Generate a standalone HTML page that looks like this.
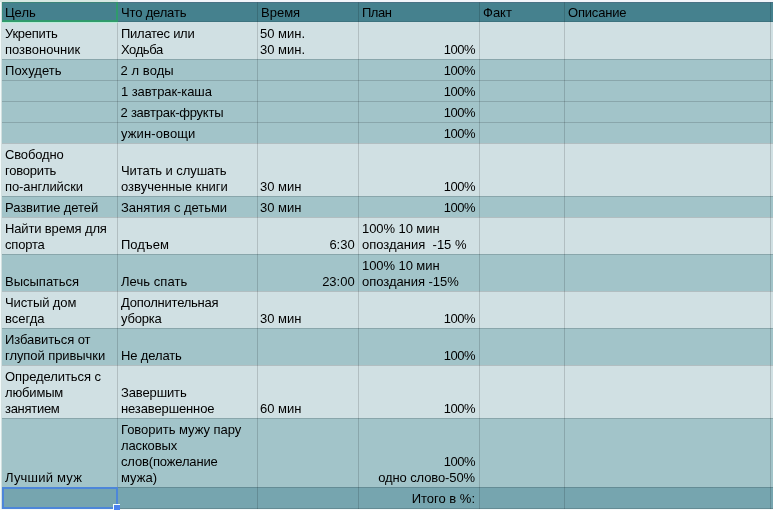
<!DOCTYPE html>
<html lang="ru">
<head>
<meta charset="utf-8">
<title>Таблица целей</title>
<style>
html,body{margin:0;padding:0;}
body{width:773px;height:510px;overflow:hidden;background:#f3f7f7;position:relative;
 font-family:"Liberation Sans",Arial,sans-serif;font-size:13px;line-height:16px;color:#000;}
table{position:absolute;left:2px;top:2px;border-collapse:separate;border-spacing:0;table-layout:fixed;width:775px;}
td{box-sizing:border-box;padding:0 3px 1px 3px;vertical-align:bottom;overflow:hidden;white-space:nowrap;
 border-top:1px solid rgba(0,0,0,.15);}
td span{display:inline-block;position:relative;}
tr.h td{background:#45818e;border-top:0;border-bottom:1px solid rgba(0,0,0,.1);padding-bottom:0;}
tr.l td{background:#d0e0e3;}
tr.d td{background:#a2c4c9;}
tr.t td{background:#76a5af;border-bottom:1px solid rgba(0,0,0,.15);}
tr.f td{border-top:0;}
td.r{text-align:right;padding-right:5px;}
.v{position:absolute;top:0;width:1px;height:510px;background:rgba(0,0,0,.15);}
#sel1{position:absolute;left:2px;top:2px;width:113px;height:17px;border-right:2px solid #2f9b6c;border-bottom:2px solid #2f9b6c;border-top:1px solid rgba(47,155,108,.45);border-left:1px solid rgba(47,155,108,.45);box-sizing:content-box;}
#glow{position:absolute;left:2px;top:22px;width:116px;height:1px;background:rgba(170,245,205,.6);}
#sel2{position:absolute;left:2px;top:487px;width:112px;height:18px;border:2px solid #4d86d9;}
#hd{position:absolute;left:113px;top:504px;width:6px;height:5px;background:#4a82ee;border-left:1px solid #f4ffff;border-top:1px solid #f4ffff;}
#bot{position:absolute;left:0;top:509px;width:773px;height:1px;background:#f6fafa;}
#top{position:absolute;left:0;top:0;width:773px;height:2px;background:#f2f5fa;}
#top2{position:absolute;left:0;top:2px;width:773px;height:1px;background:rgba(80,90,120,.35);}
#topsel{position:absolute;left:0;top:0;width:118px;height:2px;background:#d8e8e2;}
#lft{position:absolute;left:0;top:2px;width:1px;height:508px;background:#f2fafa;}
#lft2{position:absolute;left:1px;top:2px;width:1px;height:508px;background:#d2dfdf;}
</style>
</head>
<body>
<table>
<colgroup><col style="width:116px"><col style="width:140px"><col style="width:101px"><col style="width:121px"><col style="width:85px"><col style="width:206px"><col style="width:6px"></colgroup>
<tr class="h" style="height:20px"><td><span>Цель</span></td><td><span style="letter-spacing:-0.167px;">Что делать</span></td><td><span>Время</span></td><td><span style="letter-spacing:-0.481px;">План</span></td><td><span>Факт</span></td><td><span style="letter-spacing:-0.185px;">Описание</span></td><td></td></tr>
<tr class="l f" style="height:37px"><td><span style="letter-spacing:-0.286px;">Укрепить</span><br><span>позвоночник</span></td><td><span style="letter-spacing:-0.270px;">Пилатес или</span><br><span style="letter-spacing:-0.400px;">Ходьба</span></td><td><span style="left:-1px;">50 мин.</span><br><span style="left:-1px;">30 мин.</span></td><td class="r"><span style="letter-spacing:-0.500px;">100%</span></td><td></td><td></td><td></td></tr>
<tr class="d" style="height:21px"><td><span style="letter-spacing:0.072px;">Похудеть</span></td><td><span style="letter-spacing:0.072px;left:-0.5px;">2 л воды</span></td><td></td><td class="r"><span style="letter-spacing:-0.500px;">100%</span></td><td></td><td></td><td></td></tr>
<tr class="d" style="height:21px"><td></td><td><span style="letter-spacing:-0.077px;">1 завтрак-каша</span></td><td></td><td class="r"><span style="letter-spacing:-0.500px;">100%</span></td><td></td><td></td><td></td></tr>
<tr class="d" style="height:21px"><td></td><td><span style="letter-spacing:-0.233px;left:-0.5px;">2 завтрак-фрукты</span></td><td></td><td class="r"><span style="letter-spacing:-0.500px;">100%</span></td><td></td><td></td><td></td></tr>
<tr class="d" style="height:21px"><td></td><td><span style="letter-spacing:0.111px;">ужин-овощи</span></td><td></td><td class="r"><span style="letter-spacing:-0.500px;">100%</span></td><td></td><td></td><td></td></tr>
<tr class="l" style="height:53px"><td><span style="letter-spacing:-0.142px;">Свободно</span><br><span style="letter-spacing:-0.214px;">говорить</span><br><span style="letter-spacing:-0.091px;">по-английски</span></td><td><span style="letter-spacing:-0.067px;">Читать и слушать</span><br><span>озвученные книги</span></td><td><span style="left:-1px;">30 мин</span></td><td class="r"><span style="letter-spacing:-0.500px;">100%</span></td><td></td><td></td><td></td></tr>
<tr class="d" style="height:21px"><td><span style="letter-spacing:-0.077px;">Развитие детей</span></td><td><span style="letter-spacing:-0.034px;">Занятия с детьми</span></td><td><span style="left:-1px;">30 мин</span></td><td class="r"><span style="letter-spacing:-0.500px;">100%</span></td><td></td><td></td><td></td></tr>
<tr class="l" style="height:37px"><td><span style="letter-spacing:-0.143px;">Найти время для</span><br><span style="letter-spacing:-0.199px;">спорта</span></td><td><span>Подъем</span></td><td class="r"><span style="left:0.7px;">6:30</span></td><td><span style="letter-spacing:-0.070px;">100% 10 мин</span><br><span>опоздания&nbsp; -15 %</span></td><td></td><td></td><td></td></tr>
<tr class="d" style="height:37px"><td><span>Высыпаться</span></td><td><span style="letter-spacing:0.055px;">Лечь спать</span></td><td class="r"><span style="left:0.7px;">23:00</span></td><td><span style="letter-spacing:-0.070px;">100% 10 мин</span><br><span style="letter-spacing:-0.038px;">опоздания -15%</span></td><td></td><td></td><td></td></tr>
<tr class="l" style="height:37px"><td><span style="letter-spacing:-0.111px;">Чистый дом</span><br><span>всегда</span></td><td><span style="letter-spacing:-0.231px;">Дополнительная</span><br><span style="letter-spacing:-0.199px;">уборка</span></td><td><span style="left:-1px;">30 мин</span></td><td class="r"><span style="letter-spacing:-0.500px;">100%</span></td><td></td><td></td><td></td></tr>
<tr class="d" style="height:37px"><td><span style="letter-spacing:-0.084px;">Избавиться от</span><br><span style="letter-spacing:-0.072px;">глупой привычки</span></td><td><span style="letter-spacing:-0.124px;">Не делать</span></td><td></td><td class="r"><span style="letter-spacing:-0.500px;">100%</span></td><td></td><td></td><td></td></tr>
<tr class="l" style="height:53px"><td><span style="letter-spacing:-0.077px;">Определиться с</span><br><span style="letter-spacing:-0.166px;">любимым</span><br><span style="letter-spacing:-0.285px;">занятием</span></td><td><span style="letter-spacing:-0.126px;">Завершить</span><br><span style="letter-spacing:-0.125px;">незавершенное</span></td><td><span style="left:-1px;">60 мин</span></td><td class="r"><span style="letter-spacing:-0.500px;">100%</span></td><td></td><td></td><td></td></tr>
<tr class="d" style="height:69px"><td><span style="letter-spacing:0.222px;">Лучший муж</span></td><td><span style="letter-spacing:-0.029px;">Говорить мужу пару</span><br><span style="letter-spacing:-0.143px;">ласковых</span><br><span style="letter-spacing:-0.154px;">слов(пожелание</span><br><span>мужа)</span></td><td></td><td class="r"><span style="letter-spacing:-0.500px;">100%</span><br><span style="letter-spacing:-0.115px;">одно слово-50%</span></td><td></td><td></td><td></td></tr>
<tr class="t" style="height:22px"><td></td><td></td><td></td><td class="r"><span>Итого в %:</span></td><td></td><td></td><td></td></tr>
</table>
<div class="v" style="left:117px"></div><div class="v" style="left:257px"></div><div class="v" style="left:358px"></div><div class="v" style="left:479px"></div><div class="v" style="left:564px"></div><div class="v" style="left:770px"></div>
<div id="top"></div><div id="topsel"></div><div id="top2"></div><div id="lft"></div><div id="lft2"></div><div id="glow"></div>
<div id="sel1"></div>
<div id="sel2"></div>
<div id="bot"></div>
<div id="hd"></div>
</body>
</html>
